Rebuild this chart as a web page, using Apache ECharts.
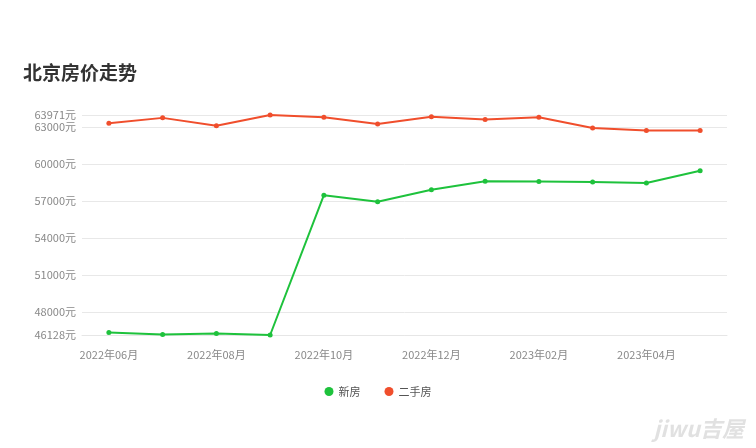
<!DOCTYPE html>
<html><head><meta charset="utf-8">
<script src="https://cdn.jsdelivr.net/npm/echarts@6/dist/echarts.min.js"></script>
<style>html,body{margin:0;padding:0;background:#fff}#c{width:756px;height:448px}</style>
</head><body><div id="c"></div>
<script>
const categories = ['2022年06月','2022年07月','2022年08月','2022年09月','2022年10月','2022年11月','2022年12月','2023年01月','2023年02月','2023年03月','2023年04月','2023年05月'];
const newHouse = [46340, 46177, 46258, 46128, 57471, 56942, 57909, 58597, 58571, 58545, 58460, 59450];
const secondHand = [63295, 63738, 63107, 63971, 63787, 63246, 63820, 63600, 63787, 62918, 62720, 62720];
const yTicks = [46128, 48000, 51000, 54000, 57000, 60000, 63000, 63971];
const yMin = 46128, yMax = 63971;

const chart = echarts.init(document.getElementById('c'), null, {renderer:'canvas'});
chart.setOption({
  animation:false,
  backgroundColor:'#fff',
  title:{text:'北京房价走势', left:18, top:58, textStyle:{fontSize:19, fontWeight:'bold', color:'#333', fontFamily:'Noto Sans CJK SC'}},
  legend:{bottom:46, left:'center', icon:'circle', itemWidth:9, itemHeight:9, itemGap:24,
    textStyle:{fontSize:11, color:'#555', fontFamily:'Noto Sans CJK SC'},
    data:['新房','二手房']},
  grid:{left:82, right:29, top:115, bottom:113},
  xAxis:{type:'category', data:categories, boundaryGap:true,
    axisLine:{show:true, lineStyle:{color:'#e6e6e6'}}, axisTick:{show:false},
    axisLabel:{interval:1, margin:14, fontSize:11, color:'#888', fontFamily:'Noto Sans CJK SC'}},
  yAxis:{type:'value', min:yMin, max:yMax,
    axisLine:{show:false}, axisTick:{show:false, customValues:yTicks},
    axisLabel:{customValues:yTicks, fontSize:11, color:'#888', margin:6, formatter:v=>v+'元', fontFamily:'Noto Sans CJK SC'},
    splitLine:{show:true, lineStyle:{color:'#e8e8e8'}}},
  series:[
    {name:'新房', type:'line', data:newHouse, symbol:'circle', symbolSize:5, showAllSymbol:true,
      itemStyle:{color:'#1ec23c'}, lineStyle:{width:2, color:'#1ec23c'}},
    {name:'二手房', type:'line', data:secondHand, symbol:'circle', symbolSize:5, showAllSymbol:true,
      itemStyle:{color:'#f04e2c'}, lineStyle:{width:2, color:'#f04e2c'}}
  ],
  graphic:[{type:'text', right:12, bottom:8, style:{text:'jiwu吉屋', fontSize:22, fontWeight:'bold', fontStyle:'italic', fill:'rgba(205,205,205,0.6)', fontFamily:'Noto Sans CJK SC'}}]
});
</script></body></html>
